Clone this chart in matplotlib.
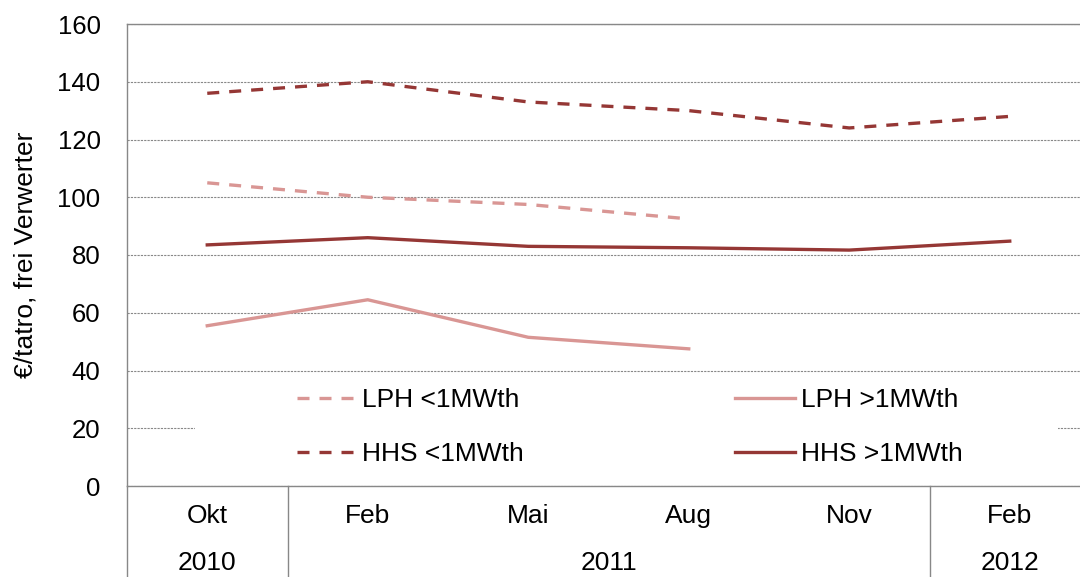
import matplotlib.pyplot as plt
from matplotlib.lines import Line2D
from matplotlib.patches import Rectangle

plt.rcParams['font.family'] = ['Liberation Sans', 'DejaVu Sans']

# Daten
monate = ["Okt", "Feb", "Mai", "Aug", "Nov", "Feb"]
jahre = ["2010", "2011", "2012"]
jahr_pos = [0, 2.5, 5]           # Mitte der Jahresgruppen
trenner = [0.5, 4.5]             # Trennlinien zwischen den Jahren

lph_klein = [105, 100, 97.5, 92.5]          # LPH <1MWth
lph_gross = [55.5, 64.5, 51.5, 47.5]        # LPH >1MWth
hhs_klein = [136, 140, 133, 130, 124, 128]  # HHS <1MWth
hhs_gross = [83.5, 86, 83, 82.5, 81.7, 84.8]  # HHS >1MWth

hell = "#D99694"
dunkel = "#953735"
grau = "#888888"

fig = plt.figure(figsize=(10.8, 5.77), dpi=100)
ax = fig.add_axes([127 / 1080, 91 / 577, 963 / 1080, 462 / 577])

x4 = range(len(lph_klein))
x6 = range(len(hhs_klein))
strich = (0, (3.6, 3.0))
ax.plot(x4, lph_klein, color=hell, lw=2.4, ls=strich, label="LPH <1MWth", zorder=3)
ax.plot(x6, hhs_klein, color=dunkel, lw=2.4, ls=strich, label="HHS <1MWth", zorder=3)
ax.plot(x4, lph_gross, color=hell, lw=2.4, label="LPH >1MWth", zorder=3)
ax.plot(x6, hhs_gross, color=dunkel, lw=2.4, label="HHS >1MWth", zorder=3)

ax.set_xlim(-0.5, 5.5)
ax.set_ylim(0, 160)
ax.set_yticks(range(0, 161, 20))
ax.yaxis.grid(True, color=grau, lw=0.8, ls=(0, (2, 1)))
ax.set_axisbelow(True)

ax.set_xticks(range(len(monate)))
ax.set_xticklabels(monate)
ax.tick_params(axis='both', length=0)
ax.tick_params(axis='y', pad=19, labelsize=18.5)
ax.tick_params(axis='x', pad=13, labelsize=19)

for s in ['left', 'top', 'bottom']:
    ax.spines[s].set_color(grau)
    ax.spines[s].set_linewidth(1.0)
ax.spines['right'].set_visible(False)

# zweite Achsenebene: Jahre
tr = ax.get_xaxis_transform()
for xp in [-0.5] + trenner:
    ax.add_line(Line2D([xp, xp], [0, -0.2], transform=tr, color=grau,
                       lw=1.0, clip_on=False))
for j, xp in zip(jahre, jahr_pos):
    ax.text(xp, -0.167, j, transform=tr, ha='center', va='center', fontsize=19)

ax.set_ylabel("€/tatro, frei Verwerter", fontsize=19)
ax.yaxis.set_label_coords(-0.093, 0.5)

# weisser Hintergrund der Legende
ax.add_patch(Rectangle((0.0706, 0.004), 0.896, 0.238, transform=ax.transAxes,
                       facecolor='white', edgecolor='none', zorder=1))
ax.legend(loc='center', bbox_to_anchor=(0.522, 0.127), ncol=2, frameon=False,
          fontsize=19, handlelength=2.25, handletextpad=0.23,
          columnspacing=8.0, labelspacing=1.15)

fig.savefig("out.png", dpi=100)
